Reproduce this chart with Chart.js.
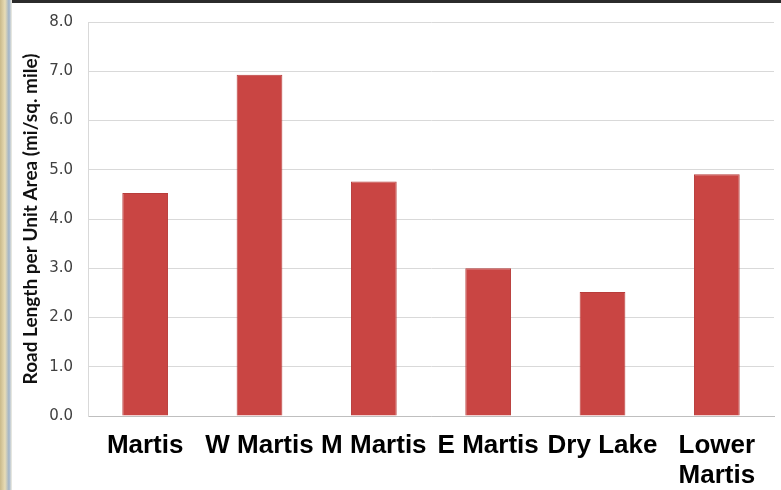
<!DOCTYPE html>
<html>
<head>
<meta charset="utf-8">
<script src="https://cdn.jsdelivr.net/npm/chart.js@4"></script>
<style>
  html, body { margin: 0; padding: 0; }
  body {
    width: 781px; height: 490px; overflow: hidden; position: relative;
    background: linear-gradient(to right, #c9b98a 0, #e8dcb5 5px, #9fb3c9 9px, #f3f0e4 12px);
  }
  #frame {
    position: absolute; left: 12px; top: 0; width: 769px; height: 490px;
    background: #fff; border-top: 3px solid #2b2b2b; box-sizing: border-box; overflow: hidden;
  }
  #chart { position: absolute; left: 0; top: -5px; }
</style>
</head>
<body>
<div id="frame"><canvas id="chart" width="769" height="492"></canvas></div>
<script>
// road density by sub-watershed
const watersheds = ['Martis', 'W Martis', 'M Martis', 'E Martis', 'Dry Lake', ['Lower', 'Martis']];
const roadDensity = [4.53, 6.93, 4.76, 3.0, 2.52, 4.91];
const yTicks = [0, 1, 2, 3, 4, 5, 6, 7, 8];

const ctx = document.getElementById('chart').getContext('2d');

new Chart(ctx, {
  type: 'bar',
  data: {
    labels: watersheds,
    datasets: [{
      label: 'Road Length',
      data: roadDensity,
      backgroundColor: '#c94543',
      borderColor: '#b83d3b',
      borderWidth: 1,
      categoryPercentage: 1.0,
      barPercentage: 0.4
    }]
  },
  options: {
    responsive: false,
    animation: false,
    layout: { padding: { top: 11, right: 7, left: 0, bottom: 0 } },
    plugins: {
      legend: { display: false },
      tooltip: { enabled: false }
    },
    scales: {
      x: {
        grid: { display: false, drawTicks: false },
        border: { color: '#bfbfbf', width: 1 },
        ticks: {
          color: '#000',
          padding: 15,
          maxRotation: 0,
          autoSkip: false,
          font: { family: 'Liberation Sans, Arial, sans-serif', size: 26, weight: 'bold', lineHeight: 1.15 }
        },
        afterFit: scale => { scale.height = 74; }
      },
      y: {
        min: 0,
        max: 8,
        afterBuildTicks: scale => { scale.ticks = yTicks.map(v => ({ value: v })); },
        grid: { color: '#d9d9d9', drawTicks: false },
        border: { color: '#d9d9d9' },
        ticks: {
          color: '#404040',
          padding: 15,
          callback: v => v.toFixed(1),
          font: { family: 'DejaVu Sans, sans-serif', size: 15 }
        },
        title: {
          display: true,
          text: 'Road Length per Unit Area (mi/sq. mile)',
          color: '#111',
          padding: { top: 7, bottom: 0 },
          font: { family: 'Lato, sans-serif', size: 19, weight: 'bold' }
        },
        afterFit: scale => { scale.width = 76; }
      }
    }
  }
});
</script>
</body>
</html>
